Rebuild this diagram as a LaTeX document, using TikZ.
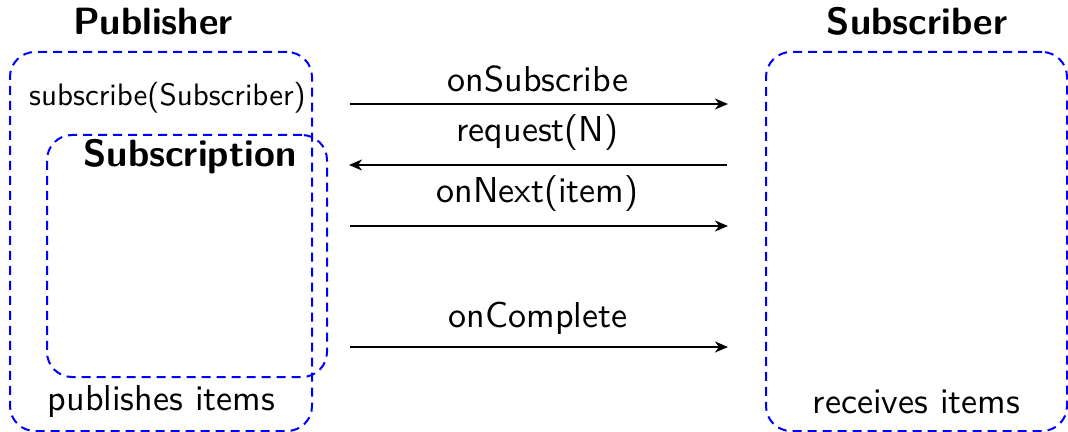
\documentclass[tikz,border=0pt]{standalone}
\usepackage{graphicx}
\usetikzlibrary{arrows.meta}
\tikzset{
  box/.style={draw=blue, line width=1pt, dash pattern=on 4.5pt off 3pt,
    rounded corners=12.5pt, rectangle, inner sep=0pt},
  msg/.style={draw=black, line width=1pt,
    -{Stealth[length=6.5pt, width=5.5pt, inset=2pt]}},
  txt/.style={anchor=base, inner sep=0pt, font=\sffamily},
}
\newcommand\sz[2]{\scalebox{#1}{#2}}
\begin{document}
\begin{tikzpicture}[x=0.5pt, y=-0.5pt]
  \useasboundingbox (0,0) rectangle (1068,432);

  % containers
  \node[box, minimum width=151pt, minimum height=189.5pt] (pub) at (161,241.5) {};
  \node[box, minimum width=140pt, minimum height=121pt] (subn) at (187,256) {};
  \node[box, minimum width=150.5pt, minimum height=189.5pt] (sub) at (916.5,241.5) {};

  % headings and captions
  \node[txt] (pubt) at (153,35) {\sz{1.9}{\bfseries Publisher}};
  \node[txt] (subt) at (917,35) {\sz{1.9}{\bfseries Subscriber}};
  \node[txt] (subm) at (167.5,106) {\sz{1.55}{subscribe(Subscriber)}};
  \node[txt] (subnt) at (190,167) {\sz{1.9}{\bfseries Subscription}};
  \node[txt] (pubc) at (161.5,410) {\sz{1.8}{publishes items}};
  \node[txt] (subc) at (916.5,413) {\sz{1.8}{receives items}};

  % message ends
  \coordinate (a1) at (350,104);  \coordinate (b1) at (728,104);
  \coordinate (a2) at (349,165);  \coordinate (b2) at (727,165);
  \coordinate (a3) at (350,226);  \coordinate (b3) at (728,226);
  \coordinate (a4) at (350,347);  \coordinate (b4) at (728,347);

  \draw[msg] (a1) -- (b1);
  \draw[msg] (b2) -- (a2);
  \draw[msg] (a3) -- (b3);
  \draw[msg] (a4) -- (b4);

  % message labels
  \node[txt] (l1) at (538,92)  {\sz{1.8}{onSubscribe}};
  \node[txt] (l2) at (537.5,142) {\sz{1.8}{request(N)}};
  \node[txt] (l3) at (537.5,203) {\sz{1.8}{onNext(item)}};
  \node[txt] (l4) at (538,327) {\sz{1.8}{onComplete}};
\end{tikzpicture}
\end{document}
